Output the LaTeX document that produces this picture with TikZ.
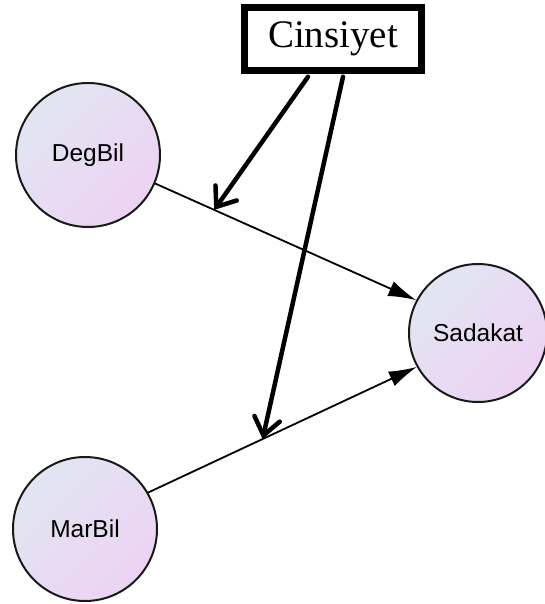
\documentclass[tikz,border=0pt]{standalone}
\usepackage{fontspec}
\setmainfont{Liberation Serif}
\newfontfamily\arialfont{Liberation Sans}
\usepackage{tikz}
\usetikzlibrary{calc,arrows.meta}
\definecolor{varA}{HTML}{E1E6F1}
\definecolor{varB}{HTML}{EDD2F3}
\tikzset{
    latent/.style={circle, draw=black!90, line width=2pt, inner sep=0pt,
        minimum size=#1, top color=varA, bottom color=varB, shading angle=45,
        font=\arialfont\fontsize{24.5}{28}\selectfont},
    modbox/.style={draw, line width=6.5pt, minimum width=177pt, minimum height=63pt,
        fill=white, font=\fontsize{39}{42}\selectfont},
    path/.style={line width=1.8pt, -{Latex[length=28pt,width=16pt]}},
    modpath/.style={line width=4.5pt, line cap=round,
        -{Straight Barb[length=17pt,width=26pt,line cap=round]}}
}
\begin{document}
\begin{tikzpicture}[x=1pt,y=-1pt]
        \useasboundingbox (0,0) rectangle (545,604);
        \node[latent=144pt] (DegBil) at (88,155) {DegBil};
        \node[latent=144pt] (MarBil) at (85,529) {MarBil};
        \node[latent=138pt] (Sadakat) at (478,333) {Sadakat};
        \node[modbox] (Cinsiyet) at (333,39) {Cinsiyet};
        % direct paths
        \draw[path] (DegBil.-23) -- (Sadakat.152) coordinate[pos=0.226] (m1);
        \draw[path] (MarBil.30) -- (Sadakat.209) coordinate[pos=0.426] (m2);
        % moderating paths
        \coordinate (c1) at ([xshift=-25pt,yshift=-3pt]Cinsiyet.south);
        \coordinate (c2) at ([xshift=10pt,yshift=-3pt]Cinsiyet.south);
        \draw[modpath] (c1) -- (m1);
        \draw[modpath] (c2) -- (m2);
    \end{tikzpicture}
\end{document}
